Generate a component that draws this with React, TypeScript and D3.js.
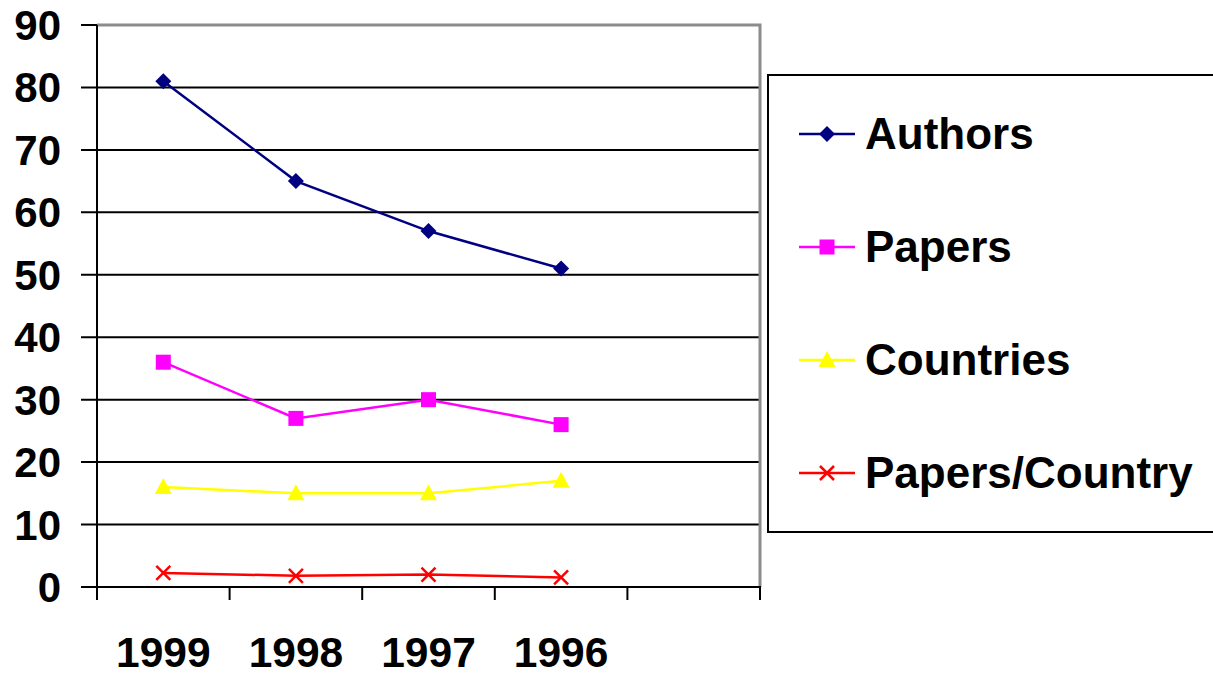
import React, { useRef, useEffect } from 'react';
import * as d3 from 'd3';

// Categories along the x axis (last band is empty in the original)
const years = ['1999', '1998', '1997', '1996', ''];
const yTicks = [0, 10, 20, 30, 40, 50, 60, 70, 80, 90];

const authors = [81, 65, 57, 51];
const papers = [36, 27, 30, 26];
const countries = [16, 15, 15, 17];
const papersPerCountry = [2.25, 1.8, 2.0, 1.53];

const seriesNames = ['Authors', 'Papers', 'Countries', 'Papers/Country'];

const App = () => {
  const svgRef = useRef(null);

  useEffect(() => {
    if (!svgRef.current) return;
    const svg = d3.select(svgRef.current);
    svg.selectAll('*').remove();

    const width = 1213;
    const height = 675;
    const left = 97, right = 760, top = 25, bottom = 587;
    const font = 'Liberation Sans, Arial, sans-serif';

    svg.attr('width', width).attr('height', height);

    const x = d3.scaleBand().domain(years.map((d, i) => String(i))).range([left, right]);
    const y = d3.scaleLinear().domain([0, 90]).range([bottom, top]);

    // Gridlines + y tick marks
    svg.append('g')
      .selectAll('line')
      .data(yTicks.filter(t => t > 0 && t < 90))
      .enter()
      .append('line')
      .attr('x1', 81)
      .attr('x2', right)
      .attr('y1', d => y(d))
      .attr('y2', d => y(d))
      .attr('stroke', '#000')
      .attr('stroke-width', 2);

    // Top / right border (gray)
    svg.append('path')
      .attr('d', `M${left},${y(90)}H${right}V${bottom}`)
      .attr('fill', 'none')
      .attr('stroke', '#8c8c8c')
      .attr('stroke-width', 3);
    svg.append('line')
      .attr('x1', 81).attr('x2', left)
      .attr('y1', y(90)).attr('y2', y(90))
      .attr('stroke', '#000').attr('stroke-width', 2);

    // Left axis
    svg.append('line')
      .attr('x1', left).attr('x2', left)
      .attr('y1', top).attr('y2', bottom + 13)
      .attr('stroke', '#000').attr('stroke-width', 2);

    // Bottom axis
    svg.append('line')
      .attr('x1', 81).attr('x2', right + 1)
      .attr('y1', bottom).attr('y2', bottom)
      .attr('stroke', '#000').attr('stroke-width', 2);

    // X ticks at band boundaries
    const bounds = years.map((d, i) => x(String(i))).concat([right]);
    svg.append('g')
      .selectAll('line')
      .data(bounds.slice(1))
      .enter()
      .append('line')
      .attr('x1', d => d)
      .attr('x2', d => d)
      .attr('y1', bottom)
      .attr('y2', bottom + 13)
      .attr('stroke', '#000')
      .attr('stroke-width', 2);

    // Y labels
    svg.append('g')
      .selectAll('text')
      .data(yTicks)
      .enter()
      .append('text')
      .attr('x', 61)
      .attr('y', d => y(d) + 15)
      .attr('text-anchor', 'end')
      .attr('font-family', font)
      .attr('font-weight', 'bold')
      .attr('font-size', '42px')
      .text(d => d);

    // X labels
    svg.append('g')
      .selectAll('text')
      .data(years)
      .enter()
      .append('text')
      .attr('x', (d, i) => x(String(i)) + x.bandwidth() / 2)
      .attr('y', 667)
      .attr('text-anchor', 'middle')
      .attr('font-family', font)
      .attr('font-weight', 'bold')
      .attr('font-size', '42.5px')
      .text(d => d);

    const series = [
      { name: seriesNames[0], values: authors, color: '#000080', marker: 'diamond' },
      { name: seriesNames[1], values: papers, color: '#ff00ff', marker: 'square' },
      { name: seriesNames[2], values: countries, color: '#ffff00', marker: 'triangle' },
      { name: seriesNames[3], values: papersPerCountry, color: '#ff0000', marker: 'x' }
    ];

    const drawMarker = (g, type, color, cx, cy) => {
      if (type === 'diamond') {
        g.append('path')
          .attr('d', `M${cx},${cy - 8}L${cx + 8},${cy}L${cx},${cy + 8}L${cx - 8},${cy}Z`)
          .attr('fill', color);
      } else if (type === 'square') {
        g.append('rect')
          .attr('x', cx - 7.5).attr('y', cy - 7.5)
          .attr('width', 15).attr('height', 15)
          .attr('fill', color);
      } else if (type === 'triangle') {
        g.append('path')
          .attr('d', `M${cx},${cy - 9}L${cx + 8.5},${cy + 7}L${cx - 8.5},${cy + 7}Z`)
          .attr('fill', color);
      } else {
        g.append('path')
          .attr('d', `M${cx - 7},${cy - 7}L${cx + 7},${cy + 7}M${cx + 7},${cy - 7}L${cx - 7},${cy + 7}`)
          .attr('stroke', color)
          .attr('stroke-width', 2.5);
      }
    };

    const line = d3.line()
      .x((d, i) => x(String(i)) + x.bandwidth() / 2)
      .y(d => y(d));

    series.forEach(s => {
      const g = svg.append('g');
      g.append('path')
        .attr('d', line(s.values))
        .attr('fill', 'none')
        .attr('stroke', s.color)
        .attr('stroke-width', 2.5);
      s.values.forEach((v, i) => {
        drawMarker(g, s.marker, s.color, x(String(i)) + x.bandwidth() / 2, y(v));
      });
    });

    // Legend
    svg.append('rect')
      .attr('x', 768)
      .attr('y', 75)
      .attr('width', 470)
      .attr('height', 457)
      .attr('fill', '#fff')
      .attr('stroke', '#000')
      .attr('stroke-width', 2);

    const legendY = d3.scalePoint().domain(seriesNames).range([134, 473]);
    series.forEach(s => {
      const ly = legendY(s.name);
      const g = svg.append('g');
      g.append('line')
        .attr('x1', 799).attr('x2', 855)
        .attr('y1', ly).attr('y2', ly)
        .attr('stroke', s.color)
        .attr('stroke-width', 2.5);
      drawMarker(g, s.marker, s.color, 827, ly);
      g.append('text')
        .attr('x', 865)
        .attr('y', ly + 15)
        .attr('font-family', font)
        .attr('font-weight', 'bold')
        .attr('font-size', '44px')
        .text(s.name);
    });
  }, []);

  return (
    <div style={{ position: 'absolute', left: 0, top: 0, width: 1213, height: 675, background: '#fff' }}>
      <svg ref={svgRef} style={{ display: 'block' }}></svg>
    </div>
  );
};

export default App;
